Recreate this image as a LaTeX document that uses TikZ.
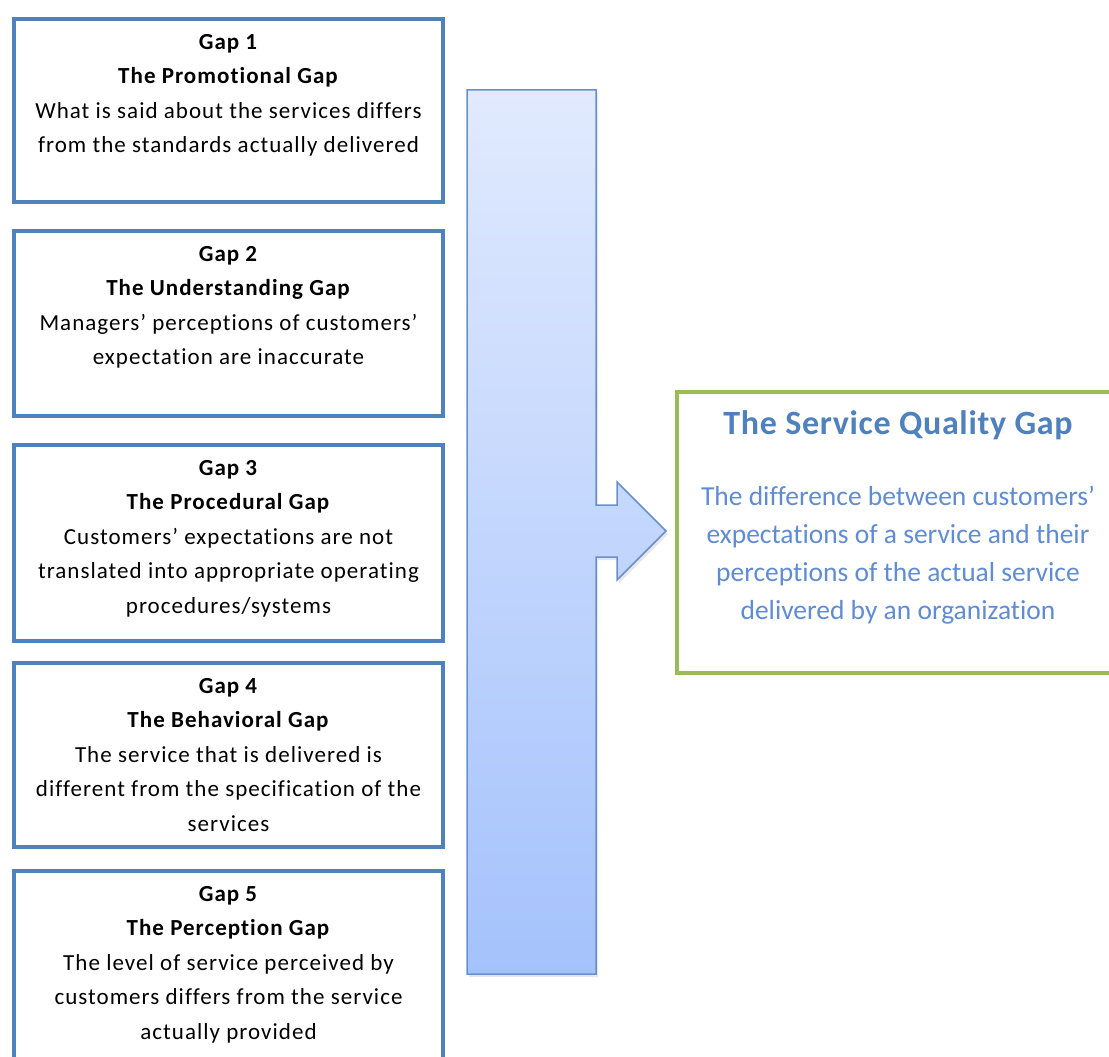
\documentclass[tikz,border=0pt]{standalone}
\usepackage{fontspec}
\setmainfont{Carlito}[RawFeature={-liga;-clig;-calt}]
\newfontfamily\gapfont{Carlito}[LetterSpace=4.5, RawFeature={-liga;-clig;-calt}]
\newfontfamily\titlefont{Carlito}[LetterSpace=2, RawFeature={-liga;-clig;-calt}]
\usetikzlibrary{shadows}

\definecolor{gapblue}{RGB}{79,129,189}
\definecolor{qualgreen}{RGB}{155,187,89}
\definecolor{qualtitle}{RGB}{79,129,189}
\definecolor{qualtext}{RGB}{96,140,212}
\definecolor{arrowtop}{RGB}{225,234,254}
\definecolor{arrowbot}{RGB}{164,194,252}
\definecolor{arrowline}{RGB}{104,144,206}

% text hung from the top of a fixed-height box
\newcommand{\boxtext}[4]{\parbox[t][#1][t]{#2}{\centering\vspace*{#3}#4}}

\begin{document}
\begin{tikzpicture}[x=1pt, y=-1pt,
    gapbox/.style={draw=gapblue, line width=4pt, fill=white, inner sep=0pt,
        anchor=north west, font=\gapfont\fontsize{23pt}{34.5pt}\selectfont},
    qualbox/.style={draw=qualgreen, line width=4pt, fill=white, inner sep=0pt,
        anchor=north west, text=qualtext, font=\fontsize{27.5pt}{38pt}\selectfont}]

    \useasboundingbox (0,0) rectangle (1109,1057);

    % Big arrow behind the gaps
    \draw[arrowline, line width=1.5pt, top color=arrowtop, bottom color=arrowbot,
        drop shadow={opacity=0.2, shadow xshift=2pt, shadow yshift=-3pt}]
        (467,90) -- (596,90) -- (596,505) -- (617,505) -- (617,482)
        -- (666,531) -- (617,580) -- (617,557) -- (596,557) -- (596,974)
        -- (467,974) -- cycle;

    % Gap 1
    \node[gapbox] (gap1) at (12,17) {\boxtext{183pt}{429pt}{15pt}{
        \textbf{Gap 1}\\
        \textbf{The Promotional Gap}\\
        What is said about the services differs\\
        from the standards actually delivered}};

    % Gap 2
    \node[gapbox] (gap2) at (12,229) {\boxtext{185pt}{429pt}{15pt}{
        \textbf{Gap 2}\\
        \textbf{The Understanding Gap}\\
        Managers’ perceptions of customers’\\
        expectation are inaccurate}};

    % Gap 3
    \node[gapbox] (gap3) at (12,443) {\boxtext{196pt}{429pt}{15pt}{
        \textbf{Gap 3}\\
        \textbf{The Procedural Gap}\\
        Customers’ expectations are not\\
        translated into appropriate operating\\
        procedures/systems}};

    % Gap 4
    \node[gapbox] (gap4) at (12,661) {\boxtext{184pt}{429pt}{15pt}{
        \textbf{Gap 4}\\
        \textbf{The Behavioral Gap}\\
        The service that is delivered is\\
        different from the specification of the\\
        services}};

    % Gap 5 (runs off the bottom)
    \node[gapbox] (gap5) at (12,869) {\boxtext{196pt}{429pt}{15pt}{
        \textbf{Gap 5}\\
        \textbf{The Perception Gap}\\
        The level of service perceived by\\
        customers differs from the service\\
        actually provided}};

    % Service quality gap
    \node[qualbox] (quality) at (675,390) {\boxtext{281pt}{442pt}{19pt}{
        {\titlefont\fontsize{34pt}{38pt}\selectfont\bfseries\color{qualtitle}The Service Quality Gap}\\[33pt]
        The difference between customers’\\
        expectations of a service and their\\
        perceptions of the actual service\\
        delivered by an organization}};

\end{tikzpicture}
\end{document}
